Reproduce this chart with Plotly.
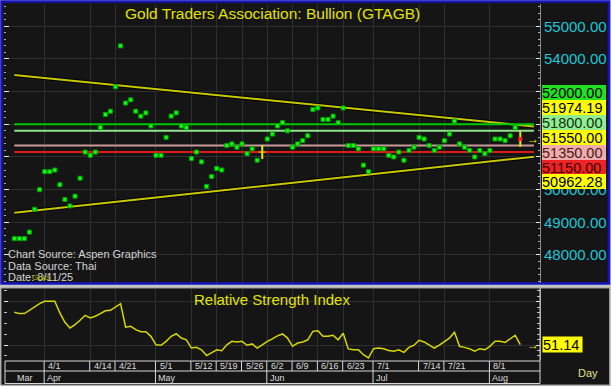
import plotly.graph_objects as go
import pandas as pd

W, H = 611, 386

# ---------------- data ----------------
dates = pd.bdate_range("2025-03-24", "2025-08-11")

price = [
    48500, 48500, 48500, 48700, 49400,   # Mar 24-28
    50000, 50550, 50550, 50600, 50150,   # Mar 31-Apr 4
    49700, 49500, 49800, 50350, 51150,   # Apr 7-11
    51050, 51150, 51900, 52300, 52400,   # Apr 14-18
    53150, 54400, 52650, 52750, 52400,   # Apr 21-25
    52250, 52350, 51950, 51050, 51050,   # Apr 28-May 2
    51600, 52250, 52350, 51950, 51900,   # May 5-9
    50950, 51150, 50850, 50100, 50400,   # May 12-16
    50650, 50600, 51350, 51400, 51300,   # May 19-23
    51400, 51100, 51250, 50900, 51150,   # May 26-30
    51550, 51700, 51950, 52050, 51800,   # Jun 2-6
    51300, 51400, 51500, 51650, 52450,   # Jun 9-13
    52500, 52150, 52150, 52250, 52050,   # Jun 16-20
    52500, 51350, 51350, 51250, 50750,   # Jun 23-27
    50550, 51250, 51250, 51250, 51050,   # Jun 30-Jul 4
    51000, 51150, 50900, 51200, 51300,   # Jul 7-11
    51600, 51550, 51350, 51200, 51300,   # Jul 14-18
    51500, 51700, 52100, 51400, 51300,   # Jul 21-25
    51200, 51000, 51200, 51100, 51200,   # Jul 28-Aug 1
    51550, 51550, 51500, 51650, 51900,   # Aug 4-8
    51550,                               # Aug 11
]

rsi = [
    66.1, 65.5, 65.5, 67.0, 68.9,
    70.1, 71.2, 71.2, 71.2, 65.8,
    61.5, 58.9, 60.4, 62.4, 64.7,
    63.5, 64.3, 65.5, 66.8, 67.0,
    68.4, 70.1, 59.2, 59.6, 58.1,
    57.1, 57.1, 55.0, 51.1, 50.9,
    52.7, 55.0, 56.2, 54.2, 53.4,
    49.6, 49.9, 48.8, 46.1, 47.3,
    48.8, 48.4, 51.1, 52.7, 52.4,
    52.7, 50.9, 51.5, 49.6, 51.1,
    52.7, 53.8, 55.2, 56.1, 54.2,
    50.4, 51.9, 52.4, 53.4, 57.3,
    57.6, 55.0, 55.0, 55.5, 53.4,
    56.4, 49.2, 48.8, 48.8, 46.5,
    45.0, 49.3, 49.6, 49.3, 48.5,
    48.1, 48.8, 47.6, 49.9, 50.9,
    53.2, 52.4, 51.1, 49.6, 50.9,
    52.4, 54.2, 56.9, 50.4, 49.9,
    49.2, 48.1, 49.3, 48.8, 50.4,
    52.7, 52.7, 52.2, 53.8, 55.5,
    51.14,
]

levels = [52000, 51800, 51350, 51150]
level_colors = ["#00c800", "#8fe08f", "#c99a9a", "#e01818"]
level_box_bg = ["#22e022", "#90ee90", "#f2aaaa", "#ee2424"]

upper_trend = [53510, 51974.19]   # value on first day, value on last day
lower_trend = [49290, 50962.28]

marked_day = "2025-05-30"          # yellow-tick bar
last_day = "2025-08-11"

week_tick_dates = ["2025-04-01", "2025-04-14", "2025-04-21", "2025-05-01", "2025-05-12",
                   "2025-05-19", "2025-05-26", "2025-06-02", "2025-06-09", "2025-06-16",
                   "2025-06-23", "2025-07-01", "2025-07-14", "2025-07-21", "2025-08-01"]
week_tick_labels = ["4/1", "4/14", "4/21", "5/1", "5/12", "5/19", "5/26", "6/2", "6/9",
                    "6/16", "6/23", "7/1", "7/14", "7/21", "8/1"]
month_dates = ["2025-03-24", "2025-04-01", "2025-05-01", "2025-06-02", "2025-07-01", "2025-08-01"]
month_labels = ["Mar", "Apr", "May", "Jun", "Jul", "Aug"]

price_axis_ticks = [48000, 49000, 50000, 51000, 52000, 53000, 54000, 55000]
rsi_last = 51.14

# ---------------- helpers ----------------
def fx(p):
    return p / W

def fy(p):
    return 1 - p / H

idx = {d.strftime("%Y-%m-%d"): i for i, d in enumerate(dates)}
xs = list(range(len(dates)))
n = len(dates)

X_RANGE = [-2.04, 103.9]
X_END = 102.7
P_RANGE = [47142, 55682]
R_RANGE = [44.07, 76.87]

BG = "#151515"
GRID = "#2f2f2f"
YEL = "#d8d800"
CYAN = "#1ec6d8"

fig = go.Figure()

# trend lines (shadow + yellow)
for tr in (upper_trend, lower_trend):
    slope = (tr[1] - tr[0]) / (n - 1)
    xx = [0, X_END]
    yy = [tr[0], tr[0] + slope * X_END]
    fig.add_trace(go.Scatter(x=xx, y=yy, mode="lines", line=dict(color="#000000", width=4),
                             hoverinfo="skip", showlegend=False, xaxis="x", yaxis="y"))
    fig.add_trace(go.Scatter(x=xx, y=yy, mode="lines", line=dict(color="#c8c800", width=2),
                             hoverinfo="skip", showlegend=False, xaxis="x", yaxis="y"))

# horizontal level lines
for lv, c in zip(levels, level_colors):
    fig.add_trace(go.Scatter(x=[0, X_END], y=[lv, lv], mode="lines", line=dict(color=c, width=2),
                             hoverinfo="skip", showlegend=False, xaxis="x", yaxis="y"))

# price points
special = {idx[marked_day], idx[last_day]}
gx = [x for x in xs if x not in special]
gy = [price[x] for x in gx]
fig.add_trace(go.Scatter(x=gx, y=gy, mode="markers",
                         marker=dict(symbol="square", size=4, color="#10ff10",
                                     line=dict(color="#00a000", width=1)),
                         showlegend=False, xaxis="x", yaxis="y"))

# marked day (yellow tick)
m = idx[marked_day]
fig.add_trace(go.Scatter(x=[m], y=[price[m]], mode="markers",
                         marker=dict(symbol="line-ns", size=10, line=dict(color="#e8e800", width=2)),
                         showlegend=False, xaxis="x", yaxis="y"))
fig.add_trace(go.Scatter(x=[m], y=[price[m]], mode="markers",
                         marker=dict(symbol="line-ew", size=5, line=dict(color="#e8e800", width=1)),
                         showlegend=False, xaxis="x", yaxis="y"))
# last day (red with yellow bar)
l = idx[last_day]
fig.add_trace(go.Scatter(x=[l], y=[price[l]], mode="markers",
                         marker=dict(symbol="line-ns", size=11, line=dict(color="#e8e800", width=2)),
                         showlegend=False, xaxis="x", yaxis="y"))
fig.add_trace(go.Scatter(x=[l], y=[price[l]], mode="markers",
                         marker=dict(symbol="square", size=4, color="#ff2020"),
                         showlegend=False, xaxis="x", yaxis="y"))

# RSI line
fig.add_trace(go.Scatter(x=xs, y=rsi, mode="lines", line=dict(color=YEL, width=1.5),
                         showlegend=False, xaxis="x2", yaxis="y2"))

# empty traces so the right-hand axes are drawn
fig.add_trace(go.Scatter(x=[None], y=[None], mode="markers", showlegend=False,
                         hoverinfo="skip", xaxis="x", yaxis="y3"))
fig.add_trace(go.Scatter(x=[None], y=[None], mode="markers", showlegend=False,
                         hoverinfo="skip", xaxis="x2", yaxis="y4"))

week_x = [idx[d] for d in week_tick_dates]

P_DOM = [fy(283), fy(4)]
R_DOM = [fy(360), fy(289)]
X_DOM = [fx(4), fx(540)]

fig.update_layout(
    width=W, height=H,
    margin=dict(l=0, r=0, t=0, b=0, autoexpand=False),
    paper_bgcolor="#c4c4c4",
    plot_bgcolor=BG,
    font=dict(family="Arial, Liberation Sans, sans-serif"),
    xaxis=dict(domain=X_DOM, range=X_RANGE, anchor="y", tickvals=week_x, showticklabels=False,
               ticks="", showgrid=True, gridcolor=GRID, gridwidth=1, zeroline=False, showline=False,
               automargin=False),
    yaxis=dict(domain=P_DOM, range=P_RANGE, anchor="x", side="left", tickvals=price_axis_ticks,
               showticklabels=False, ticks="inside", ticklen=5, tickcolor="#e8e8e8",
               minor=dict(tickvals=list(range(47200, 55700, 200)), ticks="inside", ticklen=2,
                          tickcolor="#b0b0b0", showgrid=False),
               showgrid=True, gridcolor=GRID, zeroline=False, showline=False, automargin=False),
    yaxis3=dict(range=P_RANGE, overlaying="y", anchor="x", side="right", tickvals=price_axis_ticks,
                ticktext=[f"{v:.2f}" for v in price_axis_ticks],
                tickfont=dict(color=CYAN, size=15), ticks="inside", ticklen=4, tickcolor="#e8e8e8",
                minor=dict(tickvals=list(range(47200, 55700, 200)), ticks="inside", ticklen=2,
                           tickcolor="#b0b0b0", showgrid=False),
                showgrid=False, zeroline=False, showline=True, linecolor="#8a8a8a", linewidth=1,
                automargin=False, ticklabeloverflow="allow"),
    xaxis2=dict(domain=X_DOM, range=X_RANGE, anchor="y2", tickvals=week_x, showticklabels=False,
                ticks="", showgrid=True, gridcolor=GRID, zeroline=False, showline=False,
                automargin=False),
    yaxis2=dict(domain=R_DOM, range=R_RANGE, anchor="x2", side="left", tickvals=[51, 71],
                showticklabels=False, ticks="inside", ticklen=4, tickcolor="#e8e8e8",
                minor=dict(tickvals=[46, 56, 61, 66, 76], ticks="inside", ticklen=3,
                           tickcolor="#c0c0c0", showgrid=False),
                showgrid=True, gridcolor=GRID, zeroline=False, showline=False, automargin=False),
    yaxis4=dict(range=R_RANGE, overlaying="y2", anchor="x2", side="right", tickvals=[51, 71],
                showticklabels=False, ticks="inside", ticklen=4, tickcolor="#e8e8e8",
                minor=dict(dtick=2.5, tick0=46, ticks="inside", ticklen=3, tickcolor="#c0c0c0",
                           showgrid=False),
                showgrid=False, zeroline=False, showline=True, linecolor="#8a8a8a", linewidth=1,
                automargin=False),
)

shapes = []
# panels
shapes.append(dict(type="rect", xref="paper", yref="paper", x0=fx(1.5), x1=fx(609), y0=fy(283.5),
                   y1=fy(1.5), fillcolor=BG, line=dict(color="#1414c0", width=2.5), layer="below"))
shapes.append(dict(type="rect", xref="paper", yref="paper", x0=fx(1), x1=fx(609.5), y0=fy(385),
                   y1=fy(288), fillcolor=BG, line=dict(color="#9a9a9a", width=1), layer="below"))
# date axis frame
for yy in (361, 371, 383.5):
    shapes.append(dict(type="line", xref="paper", yref="paper", x0=fx(5), x1=fx(540), y0=fy(yy),
                       y1=fy(yy), line=dict(color="#d8d8d8", width=1)))
shapes.append(dict(type="line", xref="paper", yref="paper", x0=fx(5), x1=fx(5), y0=fy(361),
                   y1=fy(383.5), line=dict(color="#d8d8d8", width=1)))
shapes.append(dict(type="line", xref="paper", yref="paper", x0=fx(540), x1=fx(540), y0=fy(288),
                   y1=fy(383.5), line=dict(color="#d8d8d8", width=1)))
for wx in week_x:
    shapes.append(dict(type="line", xref="x2", yref="paper", x0=wx - 0.1, x1=wx - 0.1, y0=fy(361),
                       y1=fy(371), line=dict(color="#d8d8d8", width=1)))
for md in month_dates[1:]:
    mx = idx[md]
    shapes.append(dict(type="line", xref="x2", yref="paper", x0=mx - 0.1, x1=mx - 0.1, y0=fy(371),
                       y1=fy(383.5), line=dict(color="#d8d8d8", width=1)))
fig.update_layout(shapes=shapes)

ann = []
# titles
ann.append(dict(text="Gold Traders Association: Bullion (GTAGB)", xref="paper", yref="paper",
                x=fx(272), y=fy(13), showarrow=False, font=dict(size=15.5, color="#e4e400"),
                xanchor="center", yanchor="middle"))
ann.append(dict(text="Relative Strength Index", xref="paper", yref="paper",
                x=fx(272), y=fy(299), showarrow=False, font=dict(size=15, color="#e4e400"),
                xanchor="center", yanchor="middle"))
# source text
for t, yy in (("Chart Source: Aspen Graphics", 253.5), ("Data Source: Thai", 265.5),
              ("Date: 8/11/25", 277)):
    ann.append(dict(text=t, xref="paper", yref="paper", x=fx(6), y=fy(yy), showarrow=False,
                    font=dict(size=11, color="#d4d4d4"), xanchor="left", yanchor="middle"))
ann.append(dict(text="Gold", xref="paper", yref="paper", x=fx(30), y=fy(277.5), showarrow=False,
                font=dict(size=8, color="#b8b800"), xanchor="left", yanchor="middle"))

# right-side value boxes (stacked)
box_vals = [levels[0], upper_trend[1], levels[1], price[-1], levels[2], levels[3], lower_trend[1]]
box_bg = [level_box_bg[0], "#ffff00", level_box_bg[1], "#ffff00", level_box_bg[2], level_box_bg[3], "#ffff00"]
box_fg = ["#000000", "#000000", "#103010", "#000000", "#402020", "#3a0000", "#000000"]
box_y = [93, 107.7, 122.4, 137.5, 152.4, 167.4, 181.6]
for v, bg, fg, yy in zip(box_vals, box_bg, box_fg, box_y):
    ann.append(dict(text=f"{v:.2f}", xref="paper", yref="paper", x=fx(542), y=fy(yy),
                    showarrow=False, xanchor="left", yanchor="middle", align="left",
                    bgcolor=bg, width=64, height=15, borderpad=0, borderwidth=0,
                    font=dict(size=14.5, color=fg)))
# arrows and last values
ann.append(dict(text="→", xref="x", yref="y", x=102.6, y=price[-1], showarrow=False,
                font=dict(size=12, color="#e8e800"), xanchor="center", yanchor="middle"))
ann.append(dict(text="→", xref="x2", yref="y2", x=102.6, y=rsi[-1], showarrow=False,
                font=dict(size=12, color="#e8e800"), xanchor="center", yanchor="middle"))
ann.append(dict(text=f"{rsi_last:.2f}", xref="paper", yref="y2", x=fx(542), y=rsi[-1],
                showarrow=False, xanchor="left", yanchor="middle", align="left",
                bgcolor="#ffff00", width=39, height=15, borderpad=0,
                font=dict(size=14.5, color="#000000")))
ann.append(dict(text="Day", xref="paper", yref="paper", x=fx(588), y=fy(373), showarrow=False,
                font=dict(size=11, color="#e0e090"), xanchor="center", yanchor="middle"))
# date labels
for wx, lab in zip(week_x, week_tick_labels):
    ann.append(dict(text=lab, xref="x2", yref="paper", x=wx + 0.3, y=fy(366.3), showarrow=False,
                    font=dict(size=9, color="#dcdcdc"), xanchor="left", yanchor="middle"))
for md, lab in zip(month_dates, month_labels):
    ann.append(dict(text=lab, xref="x2", yref="paper", x=idx[md] + 0.1, y=fy(377.5), showarrow=False,
                    font=dict(size=9, color="#dcdcdc"), xanchor="left", yanchor="middle"))
fig.update_layout(annotations=ann)

fig.write_html("out.html", config={"displayModeBar": False},
               post_script="document.body.style.margin='0px';document.body.style.overflow='hidden';")
